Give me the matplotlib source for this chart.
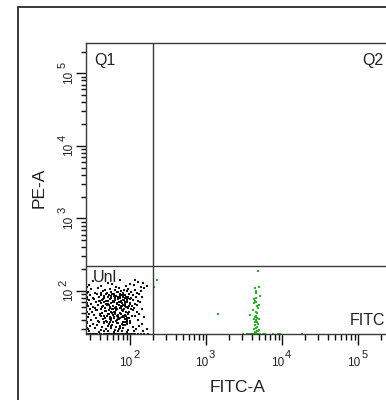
import matplotlib
matplotlib.use('Agg')
import matplotlib.pyplot as plt
from matplotlib.patches import Rectangle
from matplotlib.ticker import LogLocator, NullFormatter
from matplotlib.transforms import blended_transform_factory, offset_copy

plt.rcParams['font.family'] = ['Liberation Sans', 'DejaVu Sans']

# events in the double-negative gate (black)
neg_fitc = [
    33, 52, 75, 100, 128, 150, 118,
    29, 41, 58, 66, 88, 112, 140, 165,
    31, 38, 47, 55, 63, 71, 84, 95, 118, 152,
    28, 35, 44, 50, 57, 68, 76, 82, 91, 104, 125, 138,
    30, 37, 42, 48, 53, 61, 66, 73, 79, 87, 96, 110, 131,
    27, 33, 39, 45, 51, 56, 62, 69, 74, 80, 86, 93, 102, 119, 146,
    29, 34, 40, 43, 49, 54, 59, 64, 70, 77, 83, 90, 99, 108, 127,
    27, 31, 36, 41, 46, 52, 57, 62, 67, 72, 78, 85, 92, 101, 115, 137,
    28, 33, 38, 44, 50, 55, 60, 65, 71, 76, 81, 88, 97, 106, 122,
    30, 35, 42, 47, 53, 58, 63, 68, 74, 79, 84, 94, 103, 113, 143,
    27, 32, 37, 43, 49, 56, 61, 66, 73, 82, 89, 98, 111, 124,
    29, 34, 40, 45, 51, 59, 64, 70, 77, 86, 95, 105, 133,
    28, 36, 41, 47, 54, 62, 68, 75, 83, 92, 117, 155,
    31, 38, 44, 50, 57, 65, 72, 80, 90, 101, 126,
    27, 33, 39, 46, 53, 60, 69, 78, 87, 99, 142,
    30, 37, 43, 51, 58, 66, 74, 85, 109, 130,
    28, 35, 42, 48, 56, 63, 71, 81, 94, 120, 168,
    29, 39, 45, 52, 61, 70, 79, 91, 112, 150,
    27, 29, 31, 33, 35, 37, 40, 42, 45, 48, 51, 54, 57, 60, 64,
    68, 72, 76, 80, 85, 90, 96, 102, 110, 118, 128, 140, 155, 170,
    46, 58, 71, 83, 52, 64, 77, 90, 49, 61, 74, 87, 55, 67, 80, 95,
    47, 60, 72, 85, 53, 66, 79, 93, 50, 63, 76, 88, 57, 69, 82, 97,
    48, 62, 75, 86, 54, 68, 81, 91,
    41, 56, 69, 94, 44, 59, 73, 99, 39, 53, 65, 89, 43, 58, 70, 84,
    36, 51, 63, 78, 40, 55, 67, 81, 45, 57, 73, 92,
    27, 27, 27, 27, 27, 27, 27, 27,
]
neg_pe = [
    138, 131, 143, 127, 135, 129, 141,
    121, 116, 124, 113, 119, 122, 115, 118,
    106, 109, 103, 108, 104, 110, 102, 107, 105, 109,
    97, 95, 100, 94, 98, 96, 99, 95, 101, 97, 94, 99,
    89, 91, 87, 92, 88, 90, 86, 91, 89, 87, 92, 88, 90,
    82, 80, 84, 81, 83, 79, 85, 82, 80, 84, 81, 83, 79, 82, 84,
    75, 77, 73, 76, 74, 78, 72, 75, 77, 73, 76, 74, 78, 75, 73,
    69, 67, 70, 68, 71, 66, 69, 70, 67, 71, 68, 66, 70, 69, 67, 71,
    63, 61, 64, 62, 65, 60, 63, 61, 64, 62, 65, 60, 63, 62, 64,
    57, 59, 56, 58, 55, 57, 59, 56, 58, 55, 57, 59, 56, 58, 57,
    52, 51, 54, 50, 53, 52, 51, 54, 50, 53, 52, 51, 54, 52,
    48, 47, 49, 46, 48, 47, 49, 46, 48, 47, 49, 46, 48,
    44, 43, 45, 42, 44, 43, 45, 42, 44, 43, 45, 44,
    40, 39, 41, 38, 40, 39, 41, 38, 40, 39, 40,
    36, 35, 37, 36, 35, 37, 36, 35, 37, 36, 35,
    33, 34, 32, 33, 34, 32, 33, 34, 32, 33,
    30, 31, 29, 30, 31, 29, 30, 31, 29, 30, 30,
    28, 27.5, 28.5, 28, 27.5, 28.5, 28, 27.5, 28.5, 28,
    26, 26, 26, 26, 26, 26, 26, 26, 26, 26, 26, 26, 26, 26, 26,
    26, 26, 26, 26, 26, 26, 26, 26, 26, 26, 26, 26, 26, 26,
    86, 92, 79, 88, 74, 81, 70, 77, 66, 72, 84, 63, 58, 68, 75, 61,
    53, 57, 65, 71, 49, 55, 62, 50, 45, 51, 58, 46, 42, 47, 54, 43,
    39, 44, 50, 41, 37, 40, 46, 38,
    93, 85, 97, 80, 78, 71, 88, 67, 73, 64, 57, 83, 60, 50, 43, 56,
    55, 66, 48, 44, 47, 41, 36, 34, 38, 33, 31, 35,
    95, 78, 64, 52, 44, 37, 31, 115,
]

# FITC-positive events (green)
pos_fitc = [
    228, 207, 1440, 4800, 5000, 4400, 4500, 5100, 4300, 4500, 4250, 5000,
    4700, 4150, 4650, 3800, 4400, 4700, 4500, 4700, 4400, 4650, 4250, 4900,
    4550, 4600, 4450, 4750, 4550, 4600, 4350, 4800, 4500, 4650,
    4300, 4900, 4600, 4350, 4850,
    3040, 3440, 3620, 3790, 3990, 4190, 4400, 4640, 4870, 5120,
    5680, 5960, 7690, 8930, 9420, 18150,
]
pos_pe = [
    142, 115, 49, 190, 115, 109, 93, 85, 77, 70, 68, 65,
    62, 55, 50, 47, 44, 42, 40, 37, 34, 32, 30, 29,
    100, 80, 73, 58, 52, 45, 38, 35, 31, 28,
    41, 41, 27, 27.5, 28,
    26, 26, 26, 26, 26, 26, 26, 26, 26, 26,
    26, 26, 26, 26, 26, 26,
]

decades = [2, 3, 4, 5]
fitc_gate = 199
pe_gate = 219
x_range = (26.4, 262144)
y_range = (25.6, 262144)

fig = plt.figure(figsize=(3.86, 4.0), dpi=100)
fig.patch.set_facecolor('white')
ax = fig.add_axes([86 / 386, 66 / 400, 304 / 386, 291 / 400])

ax.scatter(neg_fitc, neg_pe, s=2.2, marker='s', c='#111111', linewidths=0)
ax.scatter(pos_fitc, pos_pe, s=2.2, marker='s', c='#22b822', linewidths=0)

ax.set_xscale('log')
ax.set_yscale('log')
ax.set_xlim(*x_range)
ax.set_ylim(*y_range)

ax.axvline(fitc_gate, color='#3a3a3a', lw=1.0)
ax.axhline(pe_gate, color='#3a3a3a', lw=1.0)

for sp in ax.spines.values():
    sp.set_color('#3a3a3a')
    sp.set_linewidth(1.0)

for axis in (ax.xaxis, ax.yaxis):
    axis.set_major_locator(LogLocator(base=10, numticks=10))
    axis.set_minor_locator(LogLocator(base=10, subs=range(2, 10), numticks=10))
    axis.set_minor_formatter(NullFormatter())

ax.tick_params(axis='x', which='major', length=8, width=1.0, color='#111111')
ax.tick_params(axis='x', which='minor', length=4.3, width=1.0, color='#111111')
ax.tick_params(axis='y', which='major', length=7, width=1.0, color='#111111')
ax.tick_params(axis='y', which='minor', length=3.8, width=1.0, color='#111111')
ax.tick_params(labelbottom=False, labelleft=False)

# tick labels drawn as "10" plus a raised exponent of nearly the same size
xb = blended_transform_factory(ax.transData, ax.transAxes)
yb = blended_transform_factory(ax.transAxes, ax.transData)
for k in decades:
    ax.text(10 ** k, 0, '10', fontsize=8.5, color='#222222', ha='right', va='baseline',
            transform=offset_copy(xb, fig=fig, x=2, y=-32, units='dots'))
    ax.text(10 ** k, 0, str(k), fontsize=8, color='#222222', ha='left', va='baseline',
            transform=offset_copy(xb, fig=fig, x=3, y=-24, units='dots'))
    ax.text(0, 10 ** k, '10', fontsize=8.5, color='#222222', ha='right', va='baseline',
            rotation=90, rotation_mode='anchor',
            transform=offset_copy(yb, fig=fig, x=-14, y=3, units='dots'))
    ax.text(0, 10 ** k, str(k), fontsize=8, color='#222222', ha='left', va='baseline',
            rotation=90, rotation_mode='anchor',
            transform=offset_copy(yb, fig=fig, x=-20, y=5, units='dots'))

ax.text(0.026, 0.924, 'Q1', transform=ax.transAxes, fontsize=11.5, color='#222222')
ax.text(0.908, 0.924, 'Q2', transform=ax.transAxes, fontsize=11.5, color='#222222',
        clip_on=False)
ax.text(0.022, 0.18, 'Unl', transform=ax.transAxes, fontsize=11.5, color='#222222')
ax.text(0.868, 0.031, 'FITC', transform=ax.transAxes, fontsize=11.5,
        color='#222222', clip_on=False)

fig.text(238 / 386, 1 - 387 / 400, 'FITC-A', ha='center', va='center',
         fontsize=12.5, color='#222222')
fig.text(39.3 / 386, 1 - 188 / 400, 'PE-A', ha='center', va='center',
         rotation=90, fontsize=12.5, color='#222222')

# outer frame of the plot window
fig.add_artist(Rectangle((17.5 / 386, -0.5), 2.0, 0.5 + (1 - 6.5 / 400),
                         transform=fig.transFigure, fill=False,
                         lw=1.3, ec='#2a2a2a'))

fig.savefig('out.png', dpi=100)
